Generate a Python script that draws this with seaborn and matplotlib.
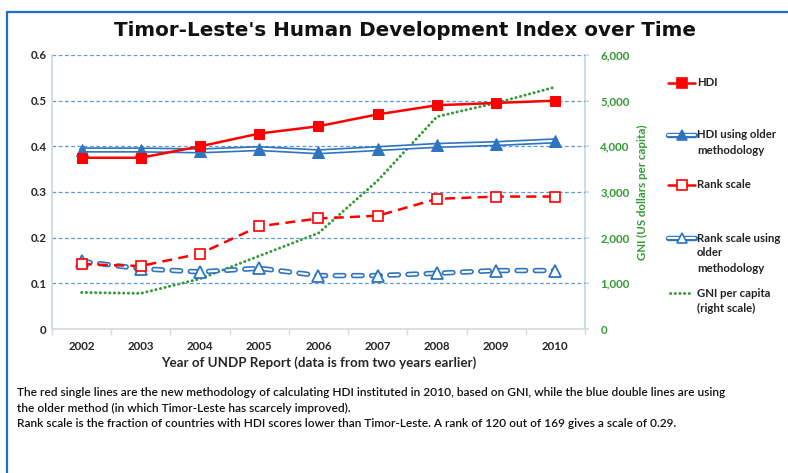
import matplotlib
matplotlib.use("Agg")
import matplotlib.pyplot as plt
import matplotlib.lines as mlines
from matplotlib.ticker import FuncFormatter, MultipleLocator
import seaborn as sns
import pandas as pd

years = ["2002", "2003", "2004", "2005", "2006", "2007", "2008", "2009", "2010"]
hdi = [0.375, 0.375, 0.400, 0.428, 0.444, 0.470, 0.490, 0.495, 0.500]
hdi_old = [0.392, 0.392, 0.390, 0.395, 0.388, 0.395, 0.402, 0.406, 0.412]
rank = [0.142, 0.138, 0.165, 0.225, 0.242, 0.248, 0.285, 0.290, 0.290]
rank_old = [0.148, 0.132, 0.125, 0.133, 0.117, 0.117, 0.122, 0.128, 0.128]
gni = [800, 780, 1100, 1600, 2100, 3250, 4650, 4950, 5300]

df = pd.DataFrame({"x": range(len(years)), "hdi": hdi, "hdi_old": hdi_old,
                   "rank": rank, "rank_old": rank_old, "gni": gni})

sns.set_theme(style="white")
plt.rcParams["font.family"] = ["Lato", "DejaVu Sans"]

RED = "#FF0000"
BLUE = "#2F74C0"
GREEN = "#339A33"
W, H = 788, 473
fig = plt.figure(figsize=(W / 100, H / 100), dpi=100)

# border
fig.add_artist(mlines.Line2D([7 / W, 7 / W], [0, 1 - 12 / H], color="#1F6FC8", lw=1.6))
fig.add_artist(mlines.Line2D([7 / W, 1], [1 - 12 / H, 1 - 12 / H], color="#1F6FC8", lw=1.6))

L, R, T, B = 52, 585, 55, 329
ax = fig.add_axes([L / W, 1 - B / H, (R - L) / W, (B - T) / H])
ax2 = ax.twinx()
ax.set_zorder(ax2.get_zorder() + 1)
ax.patch.set_visible(False)

# double line styles
BLW, WLW = 3.9, 1.5
DASH_PT, GAP_PT = 6.2, 6.9
blue_dash = (0, (DASH_PT / BLW, GAP_PT / BLW))
white_dash = (0, (DASH_PT / WLW, GAP_PT / WLW))
GNI_LS = (0, (0.1, 1.5))

# gridlines
for v in [0.1, 0.2, 0.3, 0.4, 0.5, 0.6]:
    ax.axhline(v, color="#5B9BD5", lw=0.9, ls=(0, (3, 2)), zorder=0)

# GNI on right axis
sns.lineplot(data=df, x="x", y="gni", ax=ax2, color=GREEN, lw=2.1,
             linestyle=GNI_LS, dash_capstyle="round")

# HDI old (double solid)
sns.lineplot(data=df, x="x", y="hdi_old", ax=ax, color=BLUE, lw=BLW, zorder=3)
sns.lineplot(data=df, x="x", y="hdi_old", ax=ax, color="white", lw=WLW, zorder=4)
sns.lineplot(data=df, x="x", y="hdi_old", ax=ax, color=BLUE, lw=0, marker="^",
             markersize=8, markerfacecolor=BLUE, markeredgecolor=BLUE, zorder=5)

# Rank old (double dashed)
sns.lineplot(data=df, x="x", y="rank_old", ax=ax, color=BLUE, lw=BLW, zorder=3,
             linestyle=blue_dash, dash_capstyle="round")
sns.lineplot(data=df, x="x", y="rank_old", ax=ax, color="white", lw=WLW, zorder=4,
             linestyle=white_dash, dash_capstyle="round")
sns.lineplot(data=df, x="x", y="rank_old", ax=ax, color=BLUE, lw=0, marker="^",
             markersize=8, markerfacecolor="white", markeredgecolor=BLUE,
             markeredgewidth=1.3, zorder=5)

# HDI (red solid)
sns.lineplot(data=df, x="x", y="hdi", ax=ax, color=RED, lw=1.8, marker="s",
             markersize=7, markerfacecolor=RED, markeredgecolor=RED, zorder=6)

# Rank (red dashed)
sns.lineplot(data=df, x="x", y="rank", ax=ax, color=RED, lw=1.8,
             linestyle=(0, (4, 2.5)), marker="s", markersize=7,
             markerfacecolor="white", markeredgecolor=RED, markeredgewidth=1.2, zorder=6)

ax.set_xlim(-0.5, len(years) - 0.5)
ax.set_ylim(0, 0.6)
ax2.set_ylim(0, 6000)
ax.yaxis.set_major_locator(MultipleLocator(0.1))
ax.yaxis.set_major_formatter(FuncFormatter(lambda v, p: "0" if abs(v) < 1e-9 else f"{v:.1f}"))
ax2.yaxis.set_major_locator(MultipleLocator(1000))
ax2.yaxis.set_major_formatter(FuncFormatter(lambda v, p: f"{int(v):,}"))
ax.set_xticks(range(len(years)))
ax.set_xticklabels(years)
ax.set_xticks([i + 0.5 for i in range(-1, len(years))], minor=True)

for a in (ax, ax2):
    for s in a.spines.values():
        s.set_visible(False)
ax.spines["left"].set_visible(True)
ax.spines["left"].set_color("#C8D8E8")
ax.spines["bottom"].set_visible(True)
ax.spines["bottom"].set_color("#D9D9D9")
ax2.spines["right"].set_visible(True)
ax2.spines["right"].set_color("#C8D8E8")

ax.tick_params(axis="y", which="both", length=0, pad=4, labelsize=8.3)
ax.tick_params(axis="x", which="major", length=0, pad=9, labelsize=8.3)
ax.tick_params(axis="x", which="minor", length=4, color="#D9D9D9", direction="out", bottom=True)
ax2.tick_params(axis="y", length=3, color="#C8D8E8", pad=8, labelsize=8.3, labelcolor=GREEN)
for lab in ax.get_yticklabels() + ax.get_xticklabels():
    lab.set_fontweight("bold")
for lab in ax2.get_yticklabels():
    lab.set_fontweight("bold")

ax.set_xlabel("Year of UNDP Report (data is from two years earlier)", fontsize=9.6,
              fontweight="bold", labelpad=3)
ax.set_ylabel("")
ax2.set_ylabel("GNI (US dollars per capita)", fontsize=8.3, fontweight="bold",
               color=GREEN, labelpad=5)

fig.text(405 / W, 1 - 31 / H, "Timor-Leste's Human Development Index over Time",
         ha="center", va="center", fontsize=14.3, fontweight="bold",
         family="DejaVu Sans", color="#111111")

# legend (keys drawn in figure coordinates, text lines beside them)
def fy(y):
    return 1 - y / H

HX0, HX1, TX = 668, 695, 697
def key_line(y, color, lw, ls="-", capstyle="butt", z=10, x0=HX0, x1=HX1):
    fig.add_artist(mlines.Line2D([x0 / W, x1 / W], [fy(y), fy(y)], color=color, lw=lw,
                                 ls=ls, dash_capstyle=capstyle, solid_capstyle="round", zorder=z))

def key_marker(y, marker, fc, ec, ms=6.5, mew=1.2):
    fig.add_artist(mlines.Line2D([(HX0 + HX1) / 2 / W], [fy(y)], lw=0, marker=marker,
                                 markersize=ms, markerfacecolor=fc, markeredgecolor=ec,
                                 markeredgewidth=mew, zorder=12))

entries = [
    (83, ["HDI"]),
    (135, ["HDI using older", "methodology"]),
    (185, ["Rank scale"]),
    (238, ["Rank scale using", "older", "methodology"]),
    (293, ["GNI per capita", "(right scale)"]),
]
for y0, lines_ in entries:
    for k, txt in enumerate(lines_):
        fig.text(TX / W, fy(y0 + 15 * k), txt, ha="left", va="center", fontsize=8.2,
                 fontweight="bold", color="#222222")

key_line(83, RED, 1.8)
key_marker(83, "s", RED, RED)
key_line(135, BLUE, BLW)
key_line(135, "white", WLW, z=11)
key_marker(135, "^", BLUE, BLUE)
key_line(185, RED, 1.8)
key_marker(185, "s", "white", RED)
key_line(238, BLUE, BLW)
key_line(238, "white", WLW, z=11)
key_marker(238, "^", "white", BLUE)
key_line(293, GREEN, 2.1, ls=GNI_LS, capstyle="round", x0=670, x1=690)

notes = ["The red single lines are the new methodology of calculating HDI instituted in 2010, based on GNI, while the blue double lines are using",
         "the older method (in which Timor-Leste has scarcely improved).",
         "Rank scale is the fraction of countries with HDI scores lower than Timor-Leste. A rank of 120 out of 169 gives a scale of 0.29."]
for i, line in enumerate(notes):
    fig.text(17 / W, 1 - (393 + 15 * i) / H, line, ha="left", va="center",
             fontsize=8.6, color="#111111", fontweight="semibold")

fig.savefig("out.png", dpi=100)
